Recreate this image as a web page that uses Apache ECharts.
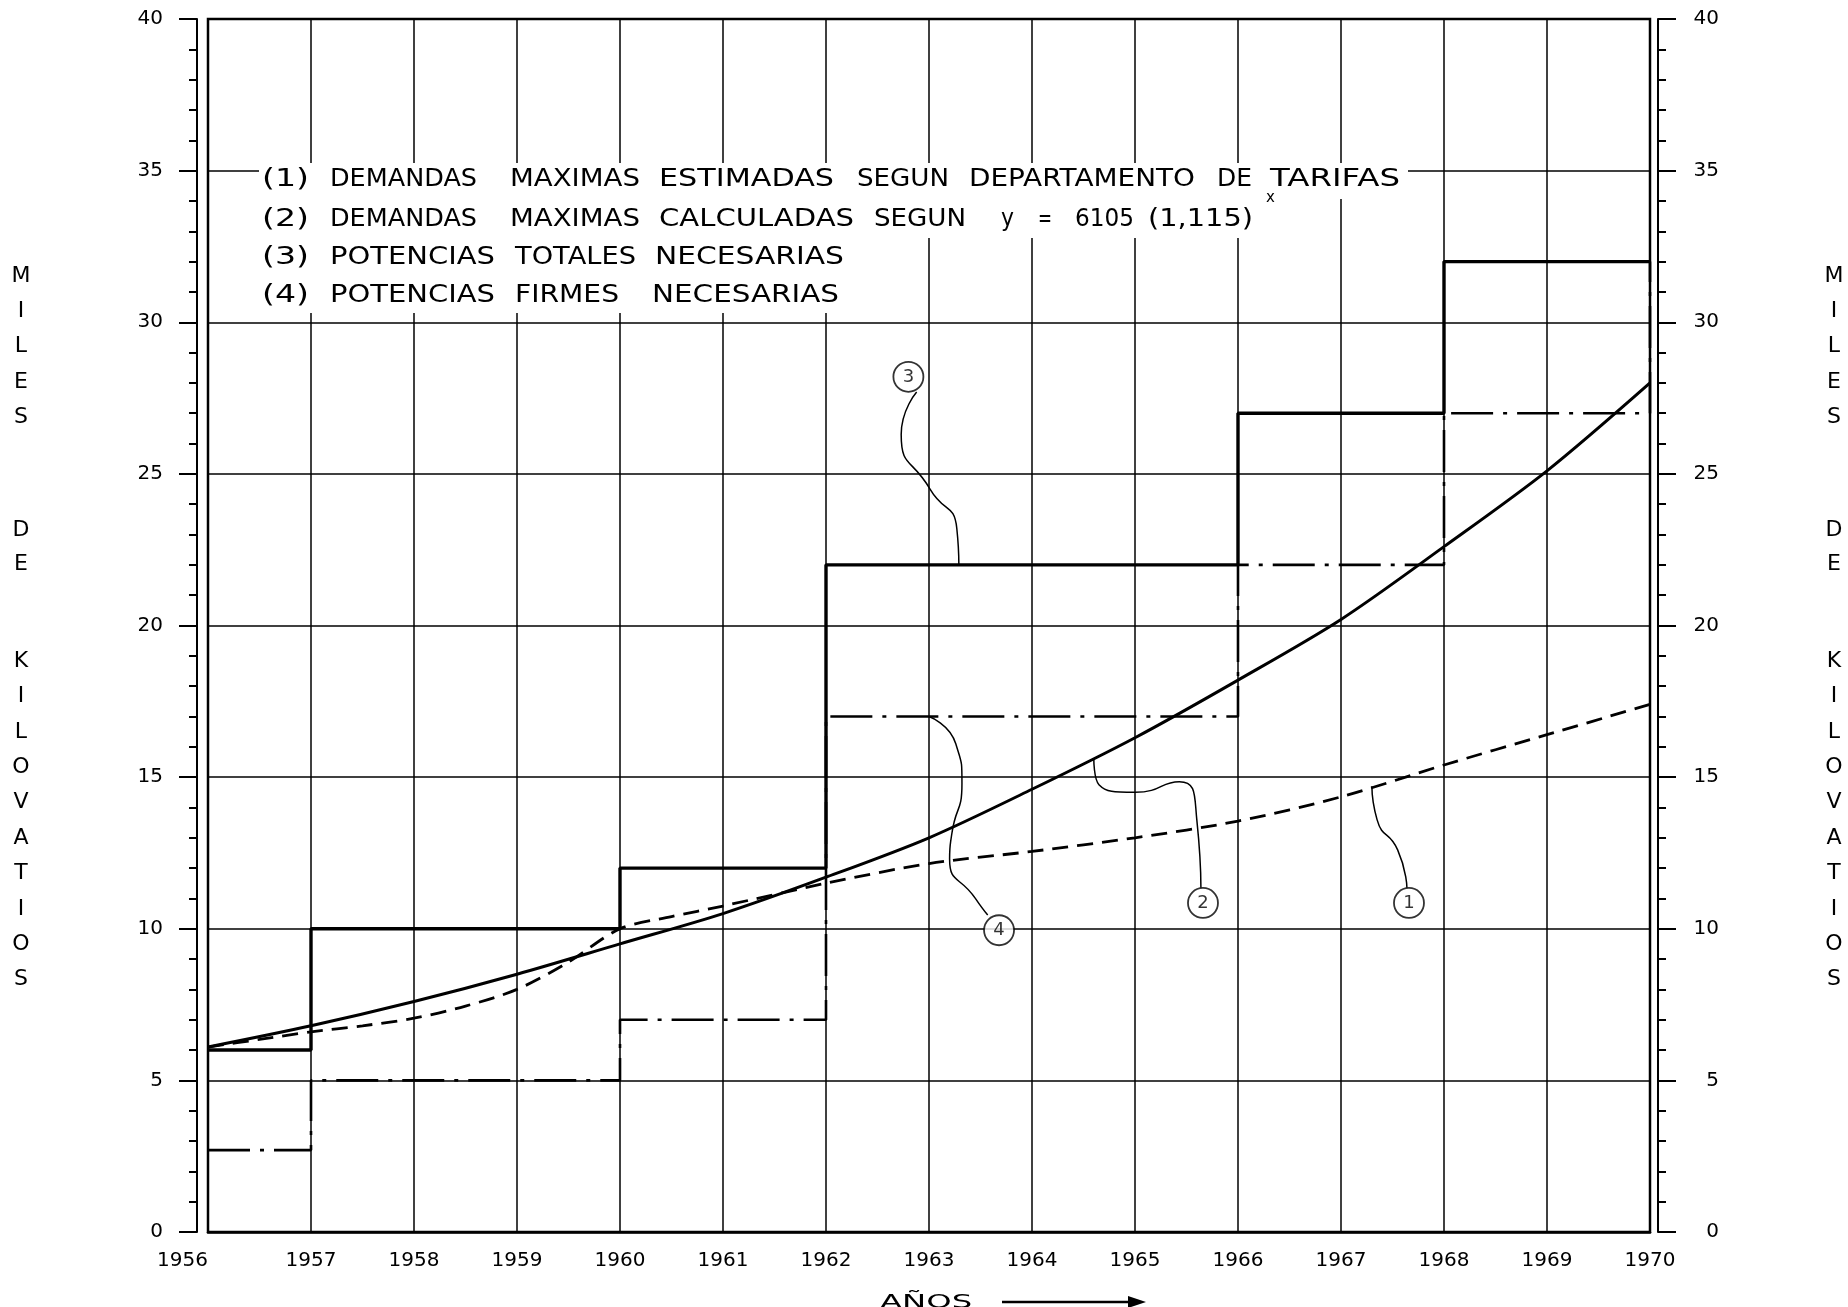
<!DOCTYPE html>
<html><head><meta charset="utf-8">
<script src="https://cdn.jsdelivr.net/npm/echarts@6/dist/echarts.min.js"></script>
<style>html,body{margin:0;padding:0;background:#fff}#c{width:1848px;height:1307px}</style>
</head><body><div id="c"></div>
<script>
// ---- data ----
const yearTicks = [1956,1957,1958,1959,1960,1961,1962,1963,1964,1965,1966,1967,1968,1969,1970];
// (1) Demandas maximas estimadas segun Departamento de Tarifas (dashed)
const s1Years  = [1956,1956.5,1957,1957.5,1958,1958.5,1959,1959.5,1960,1960.5,1961,1962,1963,1964,1965,1966,1967,1968,1969,1970];
const s1Values = [6.1,6.35,6.6,6.8,7.05,7.45,8.0,8.9,10.0,10.4,10.75,11.5,12.15,12.55,13.0,13.55,14.35,15.4,16.4,17.4];
// (2) Demandas maximas calculadas (solid curve)
const s2Years  = [1956,1957,1958,1959,1960,1961,1962,1963,1964,1965,1966,1967,1968,1969,1970];
const s2Values = [6.1,6.8,7.6,8.5,9.5,10.5,11.7,13.0,14.6,16.3,18.2,20.2,22.6,25.1,28.0];
// (3) Potencias totales necesarias (solid steps)
const s3Years  = [1956,1957,1960,1962,1966,1968,1970];
const s3Values = [6,10,12,22,27,32,32];
// (4) Potencias firmes necesarias (dash-dot steps)
const s4Years  = [1956,1957,1960,1962,1966,1968,1970];
const s4Values = [2.7,5,7,17,22,27,32];
// circled labels and their leader curves (data coords)
const markLabels = ['3','4','2','1'];
const markX = [1962.8,1963.68,1965.66,1967.66];
const markY = [28.2,9.95,10.85,10.85];
const lead3 = [[1962.88,27.7],[1962.73,26.3],[1963.01,24.5],[1963.27,23.2],[1963.29,22.0]];
const lead4 = [[1963.0,17.0],[1963.26,16.1],[1963.32,14.8],[1963.22,13.1],[1963.2,12.3],[1963.45,11.0],[1963.57,10.45]];
const lead2 = [[1964.6,15.6],[1964.65,14.75],[1965.0,14.5],[1965.43,14.85],[1965.6,13.6],[1965.64,11.35]];
const lead1 = [[1967.3,14.7],[1967.35,13.6],[1967.55,12.6],[1967.64,11.35]];

// legend words: [text, left x, right x]
const legendLines = [
  {y:180, words:[['(1)',262,309],['DEMANDAS',330,477],['MAXIMAS',510,640],['ESTIMADAS',659,834],['SEGUN',857,949],['DEPARTAMENTO',969,1195],['DE',1217,1252],['TARIFAS',1270,1400]]},
  {y:220, words:[['(2)',262,309],['DEMANDAS',330,477],['MAXIMAS',510,640],['CALCULADAS',659,854],['SEGUN',874,966],['y',1001,1014],['=',1038,1052],['6105',1075,1134],['(1,115)',1148,1253]]},
  {y:258, words:[['(3)',262,309],['POTENCIAS',330,495],['TOTALES',515,636],['NECESARIAS',655,844]]},
  {y:296, words:[['(4)',262,309],['POTENCIAS',330,495],['FIRMES',515,619],['NECESARIAS',652,839]]}
];

const zip = (xs, ys) => xs.map((x,i)=>[x, ys[i]]);
const FONT = 'DejaVu Sans';
const LFONT = '24px "' + FONT + '"';
const mctx = document.createElement('canvas').getContext('2d');
mctx.font = LFONT;
const chart = echarts.init(document.getElementById('c'), null, {renderer:'canvas'});

const yAxisBase = {
  type:'value', min:0, max:40, interval:5,
  axisLine:{show:true, lineStyle:{color:'#000', width:2}},
  axisTick:{show:true, length:18, lineStyle:{color:'#000', width:2}},
  minorTick:{show:true, splitNumber:5, length:8, lineStyle:{color:'#000', width:2}},
  splitLine:{show:false}
};

const graphics = [];
// white block behind legend text
graphics.push({type:'polygon', z:50, shape:{points:[[259,163],[1408,163],[1408,199],[1297,199],[1297,238],[849,238],[849,313],[259,313]]}, style:{fill:'#fff'}});
legendLines.forEach(l => l.words.forEach(w => {
  const mw = mctx.measureText(w[0]).width || 1;
  graphics.push({type:'text', z:60, x:w[1], y:l.y, scaleX:(w[2]-w[1])/mw, style:{text:w[0], font:LFONT, fill:'#000', textVerticalAlign:'middle', textAlign:'left'}});
}));
graphics.push({type:'text', z:60, x:1266, y:198, style:{text:'x', font:'15px "'+FONT+'"', fill:'#000', textVerticalAlign:'middle'}});
// vertical axis names
function vword(word, x, y0, step){
  word.split('').forEach((ch,i)=>graphics.push({type:'text', z:60, x:x, y:y0+i*step, style:{text:ch, font:'22px "'+FONT+'"', fill:'#000', textAlign:'center', textVerticalAlign:'middle'}}));
}
[21,1834].forEach(x=>{ vword('MILES',x,276,35.3); vword('DE',x,530,34.5); vword('KILOVATIOS',x,661,35.4); });
// x axis title
graphics.push({type:'text', z:60, x:880, y:1303, scaleX:1.7, style:{text:'AÑOS', font:'19px "'+FONT+'"', fill:'#000', textVerticalAlign:'middle'}});
graphics.push({type:'line', z:60, shape:{x1:1002,y1:1302,x2:1130,y2:1302}, style:{stroke:'#000', lineWidth:2.5}});
graphics.push({type:'polygon', z:60, shape:{points:[[1128,1296],[1146,1302],[1128,1308]]}, style:{fill:'#000'}});

const leaderStyle = {type:'line', smooth:0.6, showSymbol:false, silent:true, lineStyle:{color:'#000', width:1.5}, z:3};

chart.setOption({
  animation:false,
  backgroundColor:'#fff',
  grid:{left:208, right:198, top:19, bottom:75, show:true, borderColor:'#000', borderWidth:2.5, backgroundColor:'transparent'},
  xAxis:{type:'value', min:1956, max:1970, interval:1,
    axisLine:{show:true, lineStyle:{color:'#000', width:2.5}},
    axisTick:{show:false},
    axisLabel:{color:'#000', fontSize:20, fontFamily:FONT, margin:19, alignMinLabel:'right', formatter:v=>String(v)},
    splitLine:{show:true, lineStyle:{color:'#000', width:1.5}}},
  yAxis:[
    Object.assign({}, yAxisBase, {position:'left', offset:11,
      axisLabel:{color:'#000', fontSize:20, fontFamily:FONT, margin:34},
      splitLine:{show:true, lineStyle:{color:'#000', width:1.5}}}),
    Object.assign({}, yAxisBase, {position:'right', offset:8,
      axisLabel:{color:'#000', fontSize:20, fontFamily:FONT, margin:61, align:'right'}})
  ],
  graphic:graphics,
  series:[
    {name:'(1)', type:'line', data:zip(s1Years,s1Values), smooth:0.3, showSymbol:false, lineStyle:{color:'#000', width:2.8, type:[16,9]}, z:5},
    {name:'(2)', type:'line', data:zip(s2Years,s2Values), smooth:0.3, showSymbol:false, lineStyle:{color:'#000', width:3}, z:6},
    {name:'(3)', type:'line', step:'end', data:zip(s3Years,s3Values), showSymbol:false, lineStyle:{color:'#000', width:3.4}, z:7},
    {name:'(4)', type:'line', step:'end', data:zip(s4Years,s4Values), showSymbol:false, lineStyle:{color:'#000', width:2.6, type:[42,10,4,10]}, z:4},
    Object.assign({data:lead3}, leaderStyle),
    Object.assign({data:lead4}, leaderStyle),
    Object.assign({data:lead2}, leaderStyle),
    Object.assign({data:lead1}, leaderStyle),
    {type:'scatter', silent:true, z:10, symbol:'circle', symbolSize:30,
      data:markLabels.map((t,i)=>[markX[i], markY[i], t]),
      itemStyle:{color:'#fff', borderColor:'#000', borderWidth:1.8},
      label:{show:true, position:'inside', formatter:p=>p.value[2], color:'#000', fontSize:18, fontFamily:FONT}}
  ]
});
</script>
</body></html>
